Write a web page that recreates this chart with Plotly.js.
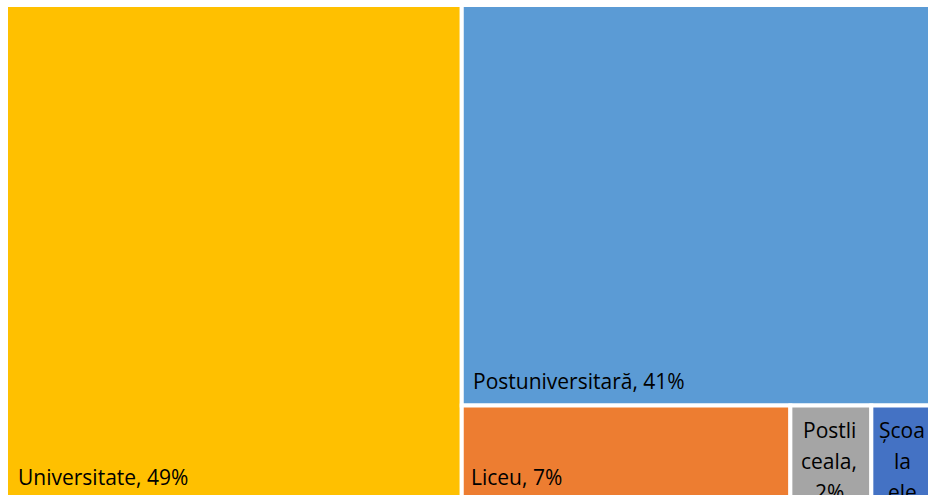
<!DOCTYPE html>
<html><head><meta charset="utf-8">
<script src="https://cdn.plot.ly/plotly-3.0.1.min.js"></script>
<style>html,body{margin:0;padding:0;overflow:hidden;background:#fff}</style>
</head><body><div id="chart"></div>
<script>
const labels = ["Universitate", "Postuniversitară", "Liceu", "Postliceala", "Școala elementară"];
const values = [48.9, 41.1, 6.9, 1.7, 1.4];
const colors = ["#FFC000", "#5B9BD5", "#ED7D31", "#A5A5A5", "#4472C4"];

const W = 938, H = 503, ML = 6, MT = 5;
const PW = W - ML, PH = H - MT;
const FONT = {family: "'Open Sans', Lato, sans-serif", size: 21, color: "#000"};

const total = values.reduce((a, b) => a + b, 0);
const pct = values.map(v => Math.round(v / total * 100) + "%");

// label placement inside each tile, in page pixels: [x, yCenter, anchor]
const labelPos = [[16, 477, "left"], [471, 381, "left"], [469, 477, "left"], [829, 430, "center"], [902, 430, "center"]];
// narrow tiles wrap their label the way the reference does
const wrapped = {3: ["Postli", "ceala,", "2%"], 4: ["Școa", "la", "ele", "men", "tară,"]};
const LINE = 31;

const annotations = [];
labels.forEach((lab, i) => {
  const lines = wrapped[i] ? wrapped[i] : [lab + ", " + pct[i]];
  if (wrapped[i] && i === 3) lines[2] = pct[i];
  lines.forEach((t, j) => {
    annotations.push({
      text: t, xref: "paper", yref: "paper",
      x: (labelPos[i][0] - ML) / PW,
      y: 1 - (labelPos[i][1] + j * LINE - MT) / PH,
      xanchor: labelPos[i][2], yanchor: "middle", showarrow: false,
      font: FONT
    });
  });
});

Plotly.newPlot("chart", [{
  type: "treemap",
  labels: labels,
  parents: labels.map(() => ""),
  values: values,
  sort: true,
  textinfo: "none",
  marker: {colors: colors, line: {color: "#fff", width: 4}, pad: {t: 0, l: 0, r: 0, b: 0}},
  tiling: {packing: "squarify", squarifyratio: 1, pad: 0},
  pathbar: {visible: false},
  hoverinfo: "skip",
  root: {color: "#fff"}
}], {
  width: W, height: H,
  margin: {l: ML, r: 0, t: MT, b: 0},
  paper_bgcolor: "#fff",
  showlegend: false,
  annotations: annotations
}, {staticPlot: true});
</script></body></html>
